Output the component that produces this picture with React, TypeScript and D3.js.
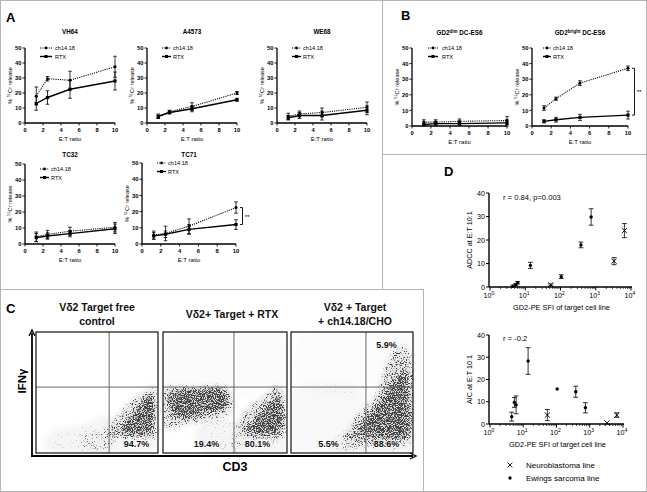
import React from 'react';
import * as d3 from 'd3';

// ---------- Panel A / B data (E:T ratio vs % 51Cr release) ----------
const ET = [1.25, 2.5, 5, 10];
const ET_TICKS = [0, 2, 4, 6, 8, 10];
const REL_TICKS = [0, 10, 20, 30, 40, 50];

const vh64Ch = [18, 29.5, 28.5, 37.5];
const vh64ChErr = [6, 1.5, 6, 7];
const vh64Rtx = [13, 17, 22.5, 28];
const vh64RtxErr = [4.5, 4.5, 6, 6];

const a4573Ch = [4, 7.5, 11, 20];
const a4573ChErr = [1, 1, 2.5, 1];
const a4573Rtx = [4.5, 7, 9.5, 15.5];
const a4573RtxErr = [1.5, 1, 2, 1];

const we68Ch = [4.5, 6, 7, 10.5];
const we68ChErr = [2, 2, 3, 3.5];
const we68Rtx = [3.5, 5, 5, 8.5];
const we68RtxErr = [1.5, 2, 3, 3];

const tc32Ch = [4.5, 6, 8, 10.5];
const tc32ChErr = [3, 2.5, 2.5, 3];
const tc32Rtx = [4, 5, 6.5, 9.5];
const tc32RtxErr = [2.5, 2, 2, 3];

const tc71Ch = [5.5, 6.5, 11, 22.5];
const tc71ChErr = [2.5, 4.5, 4.5, 3.5];
const tc71Rtx = [5, 6, 9, 12];
const tc71RtxErr = [2, 2, 3, 3];

const dimCh = [2.5, 2.5, 3, 3.5];
const dimChErr = [1.5, 1.5, 1.5, 2.5];
const dimRtx = [1, 1.5, 1.5, 2];
const dimRtxErr = [1, 1.5, 1, 2];

const brCh = [11.5, 17.5, 27.5, 37];
const brChErr = [1.5, 1, 1.5, 1.5];
const brRtx = [3, 4, 5.5, 7];
const brRtxErr = [1, 1.5, 2, 2.5];

// ---------- Panel D data ----------
const ewX = [4.5, 5.4, 6.1, 14, 105, 380, 740];
const nbX = [53, 3300, 6500];
const adccEw = [0.3, 1.0, 1.8, 9.2, 4.4, 17.9, 29.8];
const adccEwErr = [0.5, 0.5, 0.5, 1.3, 0.8, 1.2, 3.5];
const adccNb = [0.9, 11, 24];
const adccNbErr = [0.4, 1.5, 3];
const aicEw = [3.3, 9.7, 8.6, 28.3, 15.7, 14.5, 7.3];
const aicEwErr = [2, 2.2, 4, 6, 0, 2.5, 2.3];
const aicNb = [4, 0.5, 4];
const aicNbErr = [2.5, 0, 1];
const D_Y_TICKS = [0, 10, 20, 30, 40];
const D_X_DECADES = [0, 1, 2, 3, 4];

// ---------- Panel C data (flow cytometry, CD3 vs IFNγ, channel units 0..1024) ----------
const flowTitles = [
  ['Vδ2 Target free', 'control'],
  ['Vδ2+ Target + RTX'],
  ['Vδ2 + Target', '+ ch14.18/CHO'],
];
const flowCd3Gate = [614, 586, 629];
const flowIfnGate = 558;
const flowPercents = [
  [{ q: 'LR', t: '94.7%' }],
  [{ q: 'LL', t: '19.4%' }, { q: 'LR', t: '80.1%' }],
  [{ q: 'LL', t: '5.5%' }, { q: 'LR', t: '88.6%' }, { q: 'UR', t: '5.9%' }],
];
// density regions: [cd3, ifn] outlines with relative event density
const flowBlobs = [
  [
    { d: 0.3, p: [[75, 42], [117, 178], [369, 237], [621, 321], [638, 42]] },
    { d: 0.25, p: [[400, 25], [1016, 25], [1016, 150], [400, 150]] },
    { d: 0.6, p: [[600, 150], [640, 260], [747, 406], [915, 533], [999, 575], [1016, 279], [1000, 130], [800, 120]] },
    { d: 0.9, p: [[705, 190], [789, 300], [915, 460], [974, 491], [985, 200], [873, 160]] },
  ],
  [
    { d: 0.12, p: [[16, 975], [1008, 975], [1008, 567], [16, 567]] },
    { d: 0.3, p: [[264, 195], [595, 279], [636, 25], [306, 25]] },
    { d: 0.25, p: [[560, 25], [1016, 25], [1016, 140], [560, 140]] },
    { d: 0.6, p: [[8, 550], [223, 567], [512, 567], [578, 491], [570, 347], [429, 279], [223, 237], [8, 212]] },
    { d: 0.85, p: [[58, 516], [306, 541], [512, 533], [537, 406], [388, 339], [99, 296]] },
    { d: 0.6, p: [[603, 200], [677, 364], [801, 465], [966, 575], [1008, 449], [1000, 140], [700, 130]] },
    { d: 0.9, p: [[677, 190], [760, 290], [884, 431], [966, 491], [974, 190], [801, 160]] },
  ],
  [
    { d: 0.1, p: [[76, 980], [999, 980], [999, 567], [76, 567]] },
    { d: 0.2, p: [[34, 533], [579, 533], [579, 25], [34, 25]] },
    { d: 0.28, p: [[380, 25], [1016, 25], [1016, 150], [380, 150]] },
    { d: 0.6, p: [[453, 130], [495, 237], [596, 364], [705, 491], [831, 829], [915, 913], [999, 871], [1007, 100]] },
    { d: 0.9, p: [[562, 180], [621, 279], [747, 449], [873, 617], [957, 701], [990, 449], [982, 150], [705, 150]] },
  ],
];

const FONT = '"Liberation Sans", Arial, sans-serif';

type PlotSpec = {
  x0: number; x1: number; yTop: number; yBot: number;
  title: string; sup?: string; titleRest?: string; titleY: number;
  ch: number[]; chErr: number[]; rtx: number[]; rtxErr: number[];
  lgX: number; lgW: number; lgTx: number; lgY: number;
  bracket?: boolean;
};

function ErrBar({ x, y1, y2, cap = 1.8 }: { x: number; y1: number; y2: number; cap?: number }) {
  return (
    <g stroke="#000" strokeWidth={0.8}>
      <line x1={x} x2={x} y1={y1} y2={y2} />
      <line x1={x - cap} x2={x + cap} y1={y1} y2={y1} />
      <line x1={x - cap} x2={x + cap} y1={y2} y2={y2} />
    </g>
  );
}

function LinePlot({ p }: { p: PlotSpec }) {
  const x = d3.scaleLinear().domain([0, 10]).range([p.x0, p.x1]);
  const y = d3.scaleLinear().domain([0, 50]).range([p.yBot, p.yTop]);
  const line = d3.line<number>().x((_, i) => x(ET[i])).y((d) => y(d));
  const cx = (p.x0 + p.x1) / 2;
  const cy = (p.yTop + p.yBot) / 2;
  return (
    <g fontFamily={FONT}>
      <text x={cx} y={p.titleY} fontSize={6.3} fontWeight="bold" textAnchor="middle">
        {p.title}
        {p.sup && <tspan dy={-2.2} fontSize={4.5}>{p.sup}</tspan>}
        {p.titleRest && <tspan dy={2.2}>{p.titleRest}</tspan>}
      </text>
      {ET.map((e, i) => (
        <ErrBar key={'ce' + i} x={x(e)} y1={y(p.ch[i] - p.chErr[i])} y2={y(p.ch[i] + p.chErr[i])} />
      ))}
      {ET.map((e, i) => (
        <ErrBar key={'re' + i} x={x(e)} y1={y(p.rtx[i] - p.rtxErr[i])} y2={y(p.rtx[i] + p.rtxErr[i])} />
      ))}
      <path d={line(p.ch) || ''} fill="none" stroke="#000" strokeWidth={1.1} strokeDasharray="1.1 1.1" />
      <path d={line(p.rtx) || ''} fill="none" stroke="#000" strokeWidth={1.4} />
      {ET.map((e, i) => (
        <circle key={'c' + i} cx={x(e)} cy={y(p.ch[i])} r={1.5} fill="#000" />
      ))}
      {ET.map((e, i) => (
        <rect key={'r' + i} x={x(e) - 1.6} y={y(p.rtx[i]) - 1.6} width={3.2} height={3.2} fill="#000" />
      ))}
      <line x1={p.x0} x2={p.x0} y1={p.yTop} y2={p.yBot} stroke="#000" strokeWidth={1.3} />
      <line x1={p.x0} x2={p.x1} y1={p.yBot} y2={p.yBot} stroke="#000" strokeWidth={1.3} />
      {REL_TICKS.map((t) => (
        <g key={'yt' + t}>
          <line x1={p.x0 - 2.5} x2={p.x0} y1={y(t)} y2={y(t)} stroke="#000" strokeWidth={0.9} />
          <text x={p.x0 - 3.5} y={y(t) + 2.1} fontSize={5.8} fontWeight="bold" textAnchor="end">{t}</text>
        </g>
      ))}
      {ET_TICKS.map((t) => (
        <g key={'xt' + t}>
          <line x1={x(t)} x2={x(t)} y1={p.yBot} y2={p.yBot + 2.5} stroke="#000" strokeWidth={0.9} />
          <text x={x(t)} y={p.yBot + 8.5} fontSize={5.8} fontWeight="bold" textAnchor="middle">{t}</text>
        </g>
      ))}
      <text x={cx} y={p.yBot + 18} fontSize={6} textAnchor="middle">E:T ratio</text>
      <text transform={`translate(${p.x0 - 13},${cy}) rotate(-90)`} fontSize={5.6} textAnchor="middle">
        % <tspan dy={-2} fontSize={4}>51</tspan><tspan dy={2}>Cr release</tspan>
      </text>
      <g>
        <line x1={p.lgX} x2={p.lgX + p.lgW} y1={p.lgY} y2={p.lgY} stroke="#000" strokeWidth={1.1} strokeDasharray="1.1 1.1" />
        <circle cx={p.lgX + p.lgW / 2} cy={p.lgY} r={1.4} fill="#000" />
        <text x={p.lgTx} y={p.lgY + 2} fontSize={5.6}>ch14.18</text>
        <line x1={p.lgX} x2={p.lgX + p.lgW} y1={p.lgY + 8.5} y2={p.lgY + 8.5} stroke="#000" strokeWidth={1.4} />
        <rect x={p.lgX + p.lgW / 2 - 1.5} y={p.lgY + 7} width={3} height={3} fill="#000" />
        <text x={p.lgTx} y={p.lgY + 10.5} fontSize={5.6}>RTX</text>
      </g>
      {p.bracket && (
        <g>
          <path
            d={`M${p.x1 + 4},${y(p.ch[3])} H${p.x1 + 6.5} V${y(p.rtx[3])} H${p.x1 + 4}`}
            fill="none" stroke="#000" strokeWidth={0.9}
          />
          <text x={p.x1 + 9} y={(y(p.ch[3]) + y(p.rtx[3])) / 2 + 2.5} fontSize={6}>**</text>
        </g>
      )}
    </g>
  );
}

const plots: PlotSpec[] = [
  { x0: 25, x1: 115, yTop: 48, yBot: 123, title: 'VH64', titleY: 34, ch: vh64Ch, chErr: vh64ChErr, rtx: vh64Rtx, rtxErr: vh64RtxErr, lgX: 40, lgW: 12, lgTx: 55, lgY: 48 },
  { x0: 147, x1: 237, yTop: 48, yBot: 123, title: 'A4573', titleY: 34, ch: a4573Ch, chErr: a4573ChErr, rtx: a4573Rtx, rtxErr: a4573RtxErr, lgX: 162, lgW: 9, lgTx: 173, lgY: 48 },
  { x0: 277, x1: 367, yTop: 48, yBot: 123, title: 'WE68', titleY: 34, ch: we68Ch, chErr: we68ChErr, rtx: we68Rtx, rtxErr: we68RtxErr, lgX: 292, lgW: 9, lgTx: 303, lgY: 48 },
  { x0: 25, x1: 115, yTop: 164, yBot: 244, title: 'TC32', titleY: 157, ch: tc32Ch, chErr: tc32ChErr, rtx: tc32Rtx, rtxErr: tc32RtxErr, lgX: 40, lgW: 9, lgTx: 51, lgY: 169 },
  { x0: 142, x1: 236, yTop: 163, yBot: 244, title: 'TC71', titleY: 157, ch: tc71Ch, chErr: tc71ChErr, rtx: tc71Rtx, rtxErr: tc71RtxErr, lgX: 157, lgW: 9, lgTx: 168, lgY: 163, bracket: true },
  { x0: 412, x1: 507, yTop: 48, yBot: 126, title: 'GD2', sup: 'dim', titleRest: ' DC-ES6', titleY: 35, ch: dimCh, chErr: dimChErr, rtx: dimRtx, rtxErr: dimRtxErr, lgX: 428, lgW: 10, lgTx: 442, lgY: 48 },
  { x0: 532, x1: 628, yTop: 48, yBot: 126, title: 'GD2', sup: 'bright', titleRest: ' DC-ES6', titleY: 35, ch: brCh, chErr: brChErr, rtx: brRtx, rtxErr: brRtxErr, lgX: 543, lgW: 8, lgTx: 553, lgY: 48, bracket: true },
];

type LogSpec = {
  x0: number; x1: number; yTop: number; yBot: number; ylab: string; note: string; noteY: number;
  ew: number[]; ewErr: number[]; nb: number[]; nbErr: number[];
};

function Cross({ x, y, s = 2.6 }: { x: number; y: number; s?: number }) {
  return (
    <g stroke="#000" strokeWidth={0.9}>
      <line x1={x - s} x2={x + s} y1={y - s} y2={y + s} />
      <line x1={x - s} x2={x + s} y1={y + s} y2={y - s} />
    </g>
  );
}

function LogPlot({ p }: { p: LogSpec }) {
  const x = d3.scaleLog().domain([1, 10000]).range([p.x0, p.x1]);
  const y = d3.scaleLinear().domain([0, 40]).range([p.yBot, p.yTop]);
  const minors: number[] = [];
  for (let d = 0; d < 4; d++) for (let m = 2; m <= 9; m++) minors.push(m * Math.pow(10, d));
  return (
    <g fontFamily={FONT}>
      {ewX.map((v, i) =>
        p.ewErr[i] > 0 ? (
          <ErrBar key={'ee' + i} x={x(v)} y1={y(Math.max(0, p.ew[i] - p.ewErr[i]))} y2={y(p.ew[i] + p.ewErr[i])} cap={2.4} />
        ) : null
      )}
      {nbX.map((v, i) =>
        p.nbErr[i] > 0 ? (
          <ErrBar key={'ne' + i} x={x(v)} y1={y(Math.max(0, p.nb[i] - p.nbErr[i]))} y2={y(p.nb[i] + p.nbErr[i])} cap={2.4} />
        ) : null
      )}
      {ewX.map((v, i) => (
        <circle key={'ew' + i} cx={x(v)} cy={y(p.ew[i])} r={1.7} fill="#000" />
      ))}
      {nbX.map((v, i) => (
        <Cross key={'nb' + i} x={x(v)} y={y(p.nb[i])} />
      ))}
      <line x1={p.x0 - 1} x2={p.x0 - 1} y1={p.yTop} y2={p.yBot} stroke="#000" strokeWidth={1.4} />
      <line x1={p.x0 - 1} x2={p.x1 + 1} y1={p.yBot} y2={p.yBot} stroke="#000" strokeWidth={1.4} />
      {D_Y_TICKS.map((t) => (
        <g key={'dy' + t}>
          <line x1={p.x0 - 4} x2={p.x0 - 1} y1={y(t)} y2={y(t)} stroke="#000" strokeWidth={1} />
          <text x={p.x0 - 5} y={y(t) + 2.6} fontSize={7.2} textAnchor="end">{t}</text>
        </g>
      ))}
      {minors.map((m) => (
        <line key={'mn' + m} x1={x(m)} x2={x(m)} y1={p.yBot} y2={p.yBot + 2} stroke="#000" strokeWidth={0.7} />
      ))}
      {D_X_DECADES.map((k) => (
        <g key={'dx' + k}>
          <line x1={x(Math.pow(10, k))} x2={x(Math.pow(10, k))} y1={p.yBot} y2={p.yBot + 3.5} stroke="#000" strokeWidth={1} />
          <text x={x(Math.pow(10, k)) - 1} y={p.yBot + 11} fontSize={7.2} textAnchor="middle">
            10<tspan dy={-3} fontSize={5}>{k}</tspan>
          </text>
        </g>
      ))}
      <text x={(p.x0 + p.x1) / 2 + 1} y={p.yBot + 23} fontSize={7.4} textAnchor="middle">GD2-PE SFI of target cell line</text>
      <text transform={`translate(${p.x0 - 18},${(p.yTop + p.yBot) / 2}) rotate(-90)`} fontSize={7.2} textAnchor="middle">
        {p.ylab}
      </text>
      <text x={p.x0 + 13} y={p.noteY} fontSize={7.6}>{p.note}</text>
    </g>
  );
}

const logPlots: LogSpec[] = [
  { x0: 490, x1: 631, yTop: 193, yBot: 287, ylab: 'ADCC at E:T 10:1', note: 'r = 0.84, p=0.003', noteY: 200, ew: adccEw, ewErr: adccEwErr, nb: adccNb, nbErr: adccNbErr },
  { x0: 490, x1: 623, yTop: 335, yBot: 424, ylab: 'AIC at E:T 10:1', note: 'r = -0.2', noteY: 341, ew: aicEw, ewErr: aicEwErr, nb: aicNb, nbErr: aicNbErr },
];

const flowBoxes = [
  { x0: 36, x1: 158 },
  { x0: 163, x1: 287 },
  { x0: 291, x1: 413 },
];
const FY0 = 332;
const FY1 = 453;

function FlowPanel({ i }: { i: number }) {
  const b = flowBoxes[i];
  const fx = d3.scaleLinear().domain([0, 1024]).range([b.x0, b.x1]);
  const fy = d3.scaleLinear().domain([0, 1024]).range([FY1, FY0]);
  const gx = fx(flowCd3Gate[i]);
  const gy = fy(flowIfnGate);
  const poly = d3.line<number[]>().x((d) => fx(d[0])).y((d) => fy(d[1])).curve(d3.curveCatmullRomClosed);
  const cxT = (b.x0 + b.x1) / 2;
  return (
    <g fontFamily={FONT}>
      <rect x={b.x0} y={FY0} width={b.x1 - b.x0} height={FY1 - FY0} fill="#fff" />
      <g clipPath={`url(#clip${i})`}>
        <g filter="url(#speckle)">
          {flowBlobs[i].map((bl, k) => (
            <path key={k} d={poly(bl.p) || ''} fill="#000" fillOpacity={bl.d} />
          ))}
        </g>
      </g>
      <line x1={gx} x2={gx} y1={FY0} y2={FY1} stroke="#666" strokeWidth={1} />
      <line x1={b.x0} x2={b.x1} y1={gy} y2={gy} stroke="#666" strokeWidth={1} />
      <rect x={b.x0} y={FY0} width={b.x1 - b.x0} height={FY1 - FY0} fill="none" stroke="#111" strokeWidth={1.2} />
      {flowPercents[i].map((pc, k) => {
        const tx = pc.q === 'LL' ? (b.x0 + gx) / 2 + (i === 1 ? 8 : 0) : (gx + b.x1) / 2 + (i === 0 ? 3 : -3);
        const ty = pc.q === 'UR' ? 348 : 447;
        return (
          <text key={k} x={tx} y={ty} fontSize={9} fontWeight="bold" textAnchor="middle" fill="#111"
            stroke="#fff" strokeWidth={2} strokeOpacity={0.85} paintOrder="stroke">{pc.t}</text>
        );
      })}
      {flowTitles[i].length === 2 ? (
        <>
          <text x={cxT + (i === 0 ? 0 : 3)} y={311} fontSize={10.5} fontWeight="bold" textAnchor="middle" fill="#111">{flowTitles[i][0]}</text>
          <text x={cxT + (i === 0 ? 0 : 3)} y={325} fontSize={10.5} fontWeight="bold" textAnchor="middle" fill="#111">{flowTitles[i][1]}</text>
        </>
      ) : (
        <text x={cxT + 7} y={318} fontSize={10.5} fontWeight="bold" textAnchor="middle" fill="#111">{flowTitles[i][0]}</text>
      )}
    </g>
  );
}

export default function App() {
  return (
    <svg width={647} height={492} viewBox="0 0 647 492" style={{ position: 'absolute', left: 0, top: 0, background: '#fff' }}>
      <defs>
        {flowBoxes.map((b, i) => (
          <clipPath id={`clip${i}`} key={i}>
            <rect x={b.x0} y={FY0} width={b.x1 - b.x0} height={FY1 - FY0} />
          </clipPath>
        ))}
        <filter id="speckle" x="30" y="320" width="400" height="150" filterUnits="userSpaceOnUse" colorInterpolationFilters="sRGB">
          <feGaussianBlur in="SourceAlpha" stdDeviation="2.5" result="b" />
          <feTurbulence type="fractalNoise" baseFrequency="0.9" numOctaves="2" seed="7" result="n" />
          <feColorMatrix in="n" type="matrix" values="0 0 0 0 0  0 0 0 0 0  0 0 0 0 0  2.2 0 0 0 -0.6" result="na" />
          <feComposite in="na" in2="b" operator="arithmetic" k1="0" k2="3.5" k3="3.5" k4="-4.3" result="dots" />
          <feColorMatrix in="dots" type="matrix" values="0 0 0 0 0.18  0 0 0 0 0.18  0 0 0 0 0.18  0 0 0 0.9 0" result="gdots" />
          <feColorMatrix in="b" type="matrix" values="0 0 0 0 0.62  0 0 0 0 0.62  0 0 0 0 0.62  0 0 0 0.35 0" result="under" />
          <feMerge>
            <feMergeNode in="under" />
            <feMergeNode in="gdots" />
          </feMerge>
        </filter>
      </defs>
      <rect x={0} y={0} width={647} height={492} fill="#fff" />
      <g stroke="#b4b4b4" strokeWidth={1} fill="none">
        <rect x={0.5} y={0.5} width={646} height={491} />
        <line x1={382.5} x2={382.5} y1={0} y2={289} />
        <line x1={382} x2={647} y1={154.5} y2={154.5} />
        <line x1={0} x2={423} y1={289.5} y2={289.5} />
        <line x1={423.5} x2={423.5} y1={289} y2={492} />
      </g>
      <g fontFamily={FONT} fontWeight="bold" fill="#000">
        <text x={6} y={22} fontSize={13}>A</text>
        <text x={401} y={20} fontSize={13}>B</text>
        <text x={6} y={313} fontSize={13}>C</text>
        <text x={444} y={176} fontSize={13}>D</text>
      </g>
      {plots.map((p, i) => (
        <LinePlot key={i} p={p} />
      ))}
      {logPlots.map((p, i) => (
        <LogPlot key={i} p={p} />
      ))}
      <g fontFamily={FONT}>
        <Cross x={510} y={465} s={2.4} />
        <text x={526} y={468} fontSize={8}>Neuroblastoma line</text>
        <circle cx={510} cy={478} r={1.7} fill="#000" />
        <text x={526} y={481} fontSize={8}>Ewings sarcoma line</text>
      </g>
      {flowBoxes.map((_, i) => (
        <FlowPanel key={i} i={i} />
      ))}
      <g stroke="#000" strokeWidth={1.8} fill="none">
        <line x1={32} x2={32} y1={456} y2={333} />
        <line x1={31} x2={413} y1={456} y2={456} />
        <path d="M29,336 L32,330 L35,336" strokeWidth={1.3} />
        <path d="M410,453 L416,456 L410,459" strokeWidth={1.3} />
      </g>
      <text transform="translate(26,381) rotate(-90)" fontFamily={FONT} fontSize={11.5} fontWeight="bold" textAnchor="middle">IFNγ</text>
      <text x={235} y={471} fontFamily={FONT} fontSize={12.5} fontWeight="bold" textAnchor="middle">CD3</text>
    </svg>
  );
}
